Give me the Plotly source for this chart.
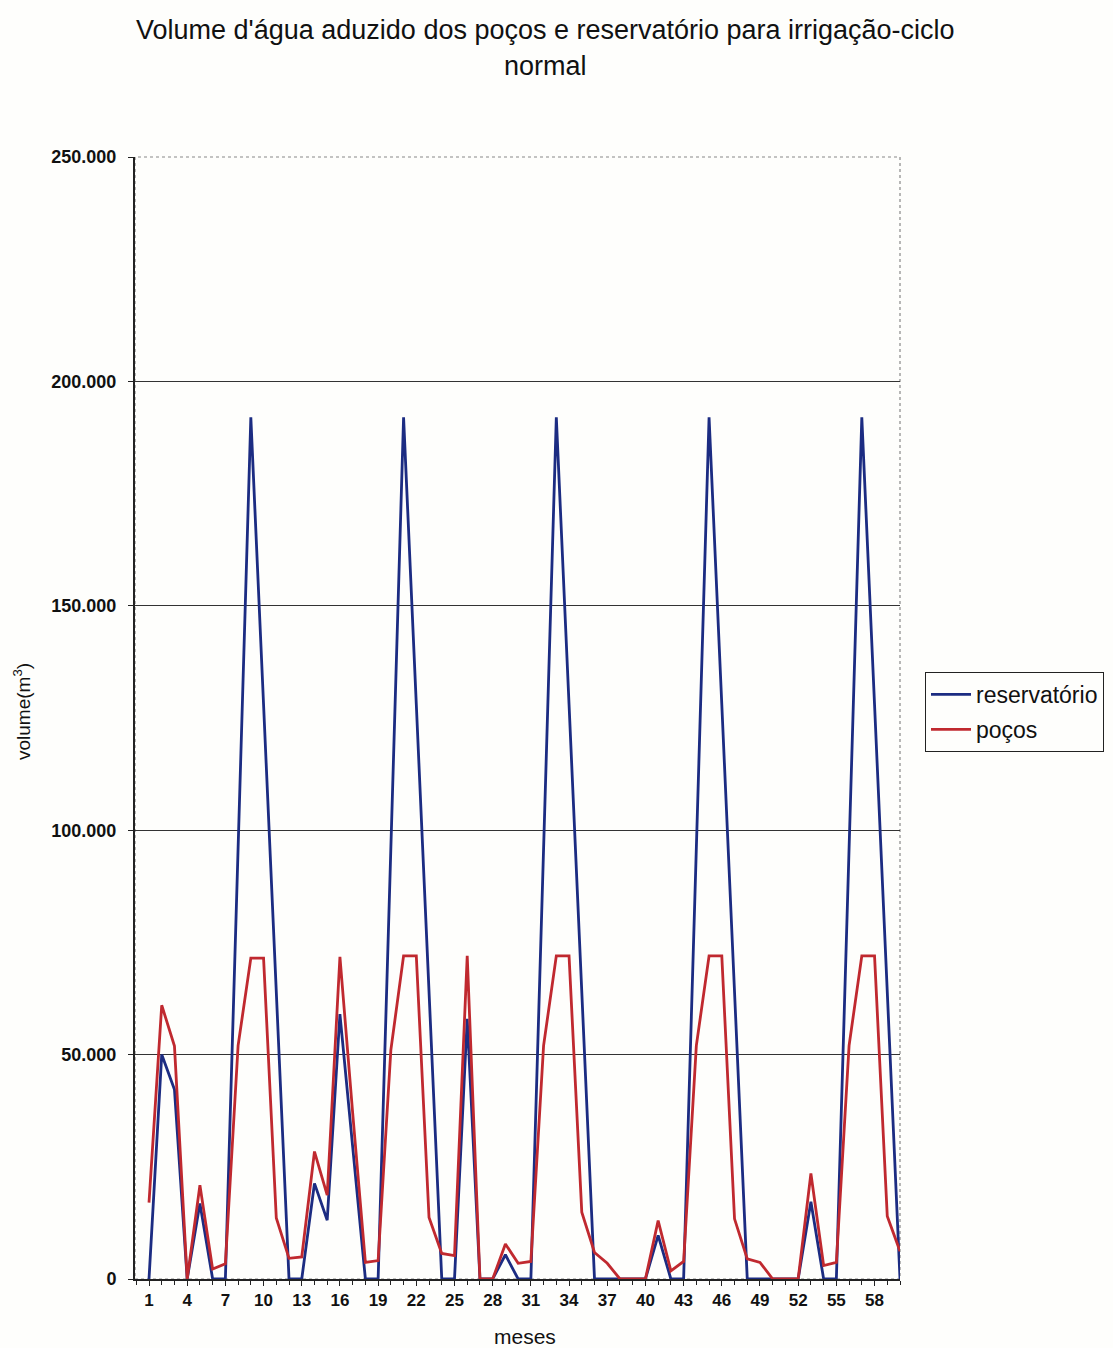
import plotly.graph_objects as go

months = list(range(1, 61))
reservatorio = [
    0, 50000, 42200, 0, 16800, 0, 0, 96000, 192000, 128000, 64000, 0,
    0, 21300, 13100, 59000, 29500, 0, 0, 96000, 192000, 128000, 64000, 0,
    0, 58000, 0, 0, 5400, 0, 0, 96000, 192000, 128000, 64000, 0,
    0, 0, 0, 0, 9700, 0, 0, 96000, 192000, 128000, 64000, 0,
    0, 0, 0, 0, 17200, 0, 0, 96000, 192000, 128000, 64000, 0,
]
pocos = [
    17000, 61000, 51900, 0, 20900, 2200, 3400, 52000, 71500, 71500, 13600, 4600,
    4900, 28400, 18700, 71800, 37000, 3700, 4100, 51000, 72000, 72000, 13700, 5700,
    5200, 72000, 0, 0, 7800, 3500, 3900, 52000, 72000, 72000, 14900, 5900,
    3500, 0, 0, 0, 13000, 1800, 3900, 52000, 72000, 72000, 13400, 4500,
    3700, 0, 0, 0, 23500, 3000, 3700, 52000, 72000, 72000, 14000, 6200,
]
tick_months = list(range(1, 59, 3))
y_ticks = [0, 50000, 100000, 150000, 200000, 250000]
title_lines = ["Volume d'água aduzido dos poços e reservatório para irrigação-ciclo", "normal"]

BLUE = "#1c2c82"
RED = "#c0292f"
FONT = "Liberation Sans, Arial, sans-serif"
BG = "#fefefc"

fig = go.Figure()
fig.add_trace(go.Scatter(x=months, y=reservatorio, mode="lines", name="reservatório",
                         legendgroup="a", line=dict(color=BLUE, width=2.8)))
fig.add_trace(go.Scatter(x=months, y=pocos, mode="lines", name="poços",
                         legendgroup="b", line=dict(color=RED, width=2.8)))

# plot area pixel geometry: left 135, right 900, top 157, bottom 1279
PW = 765.0
PH = 1122.0
annotations = []
for txt, ypix in zip(title_lines, [30, 66]):
    annotations.append(dict(text=txt, xref="paper", yref="paper",
                            x=(545 - 135) / PW, y=(1279 - ypix) / PH,
                            xanchor="center", yanchor="middle", showarrow=False,
                            font=dict(family=FONT, size=27, color="#111")))
annotations.append(dict(text="meses", xref="paper", yref="paper",
                        x=(525 - 135) / PW, y=(1279 - 1336) / PH,
                        xanchor="center", yanchor="middle", showarrow=False,
                        font=dict(family=FONT, size=21, color="#111")))
annotations.append(dict(text="volume(m<sup>3</sup>)", xref="paper", yref="paper",
                        x=(22 - 135) / PW, y=(1279 - 712) / PH, textangle=-90,
                        xanchor="center", yanchor="middle", showarrow=False,
                        font=dict(family=FONT, size=19, color="#111")))

fig.update_layout(
    width=1113, height=1348,
    paper_bgcolor=BG, plot_bgcolor=BG,
    separators=",.",
    margin=dict(l=135, r=213, t=157, b=69),
    font=dict(family=FONT, color="#111"),
    showlegend=True,
    annotations=annotations,
    legend=dict(xref="container", yref="container", x=925 / 1113, y=1 - 672 / 1348,
                xanchor="left", yanchor="top", bordercolor="#222", borderwidth=1,
                bgcolor=BG, font=dict(family=FONT, size=23, color="#111"),
                tracegroupgap=2, itemwidth=40),
    xaxis=dict(
        range=[-0.1, 60], tickmode="array", tickvals=tick_months,
        ticktext=[str(m) for m in tick_months], automargin=False,
        ticks="outside", ticklen=5, tickcolor="#222", showgrid=False, zeroline=False,
        minor=dict(ticks="outside", ticklen=4, dtick=1, tick0=0, tickcolor="#222", showgrid=False),
        tickfont=dict(family=FONT, size=17, color="#111", weight="bold"),
        showline=True, linecolor="#222", linewidth=1.5,
    ),
    yaxis=dict(
        range=[0, 250000], tickvals=y_ticks, tickformat=",d", automargin=False,
        ticks="outside", ticklen=5, tickcolor="#222", ticklabelstandoff=8,
        showgrid=True, gridcolor="#333", gridwidth=1, zeroline=False,
        tickfont=dict(family=FONT, size=18, color="#111", weight="bold"),
        showline=True, linecolor="#222", linewidth=2,
    ),
    shapes=[dict(type="rect", xref="paper", yref="paper", x0=0, x1=1, y0=0, y1=1,
                 line=dict(color="#888", width=1.2, dash="dot"), layer="below")],
)

fig.write_html("out.html")
